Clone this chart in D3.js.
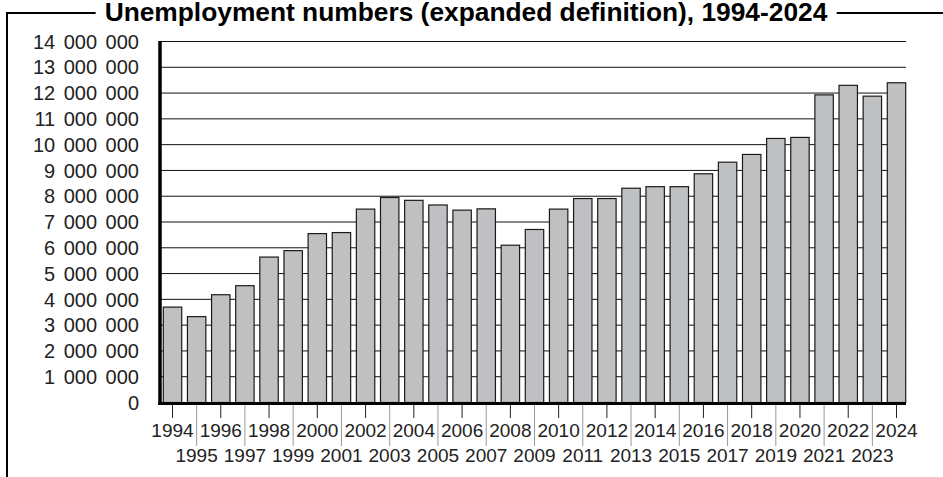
<!DOCTYPE html>
<html><head><meta charset="utf-8">
<script src="https://cdn.jsdelivr.net/npm/d3@7"></script>
<style>html,body{margin:0;padding:0;background:#fff;}svg{display:block;font-family:"Liberation Sans",Arial,Helvetica,sans-serif;}</style>
</head><body>
<script>
const title = "Unemployment numbers (expanded definition), 1994-2024";
const years = [1994,1995,1996,1997,1998,1999,2000,2001,2002,2003,2004,2005,2006,2007,2008,2009,2010,2011,2012,2013,2014,2015,2016,2017,2018,2019,2020,2021,2022,2023,2024];
const unemployed = [3700000,3330000,4180000,4530000,5640000,5890000,6550000,6590000,7500000,7950000,7840000,7660000,7460000,7510000,6100000,6710000,7500000,7910000,7910000,8310000,8370000,8370000,8870000,9320000,9620000,10240000,10280000,11930000,12300000,11880000,12400000];
const yTicks = [0,1000000,2000000,3000000,4000000,5000000,6000000,7000000,8000000,9000000,10000000,11000000,12000000,13000000,14000000];

const W = 943, H = 477;
const svg = d3.select("body").append("svg").attr("width", W).attr("height", H);

const x = d3.scaleBand().domain(years).range([163.3, 905.7]).paddingInner(0.237).paddingOuter(0);
const y = d3.scaleLinear().domain([0, 14000000]).range([402.5, 41.5]);
const fmt = v => d3.format(",")(v).replace(/,/g, " ");

// gridlines
svg.append("g").selectAll("line").data(yTicks.filter(d => d > 0)).join("line")
  .attr("x1", 160).attr("x2", 906)
  .attr("y1", d => y(d)).attr("y2", d => y(d))
  .attr("stroke", "#111").attr("stroke-width", 1);

// bars
svg.append("g").selectAll("rect").data(years).join("rect")
  .attr("x", d => x(d)).attr("width", x.bandwidth())
  .attr("y", (d, i) => y(unemployed[i]))
  .attr("height", (d, i) => y(0) - y(unemployed[i]))
  .attr("fill", "#bfc0c2").attr("stroke", "#1a1a1a").attr("stroke-width", 1.2);

// y labels
svg.append("g").selectAll("text").data(yTicks).join("text")
  .attr("x", 139).attr("y", d => y(d)).attr("dy", "0.36em")
  .attr("text-anchor", "end").attr("font-size", 20).attr("fill", "#222")
  .attr("word-spacing", 3)
  .text(fmt);

// axes lines
svg.append("line").attr("x1", 160).attr("x2", 160).attr("y1", 41).attr("y2", 405)
  .attr("stroke", "#000").attr("stroke-width", 3.5);
svg.append("line").attr("x1", 158.5).attr("x2", 906).attr("y1", 403.5).attr("y2", 403.5)
  .attr("stroke", "#000").attr("stroke-width", 3);

// x ticks and labels
const xg = svg.append("g");
years.forEach((yr, i) => {
  const cx = x(yr) + x.bandwidth() / 2;
  const odd = i % 2 === 1;
  xg.append("line").attr("x1", cx).attr("x2", cx).attr("y1", 405).attr("y2", odd ? 446 : 418)
    .attr("stroke", odd ? "#999" : "#222").attr("stroke-width", 1);
  xg.append("text").attr("x", cx).attr("y", odd ? 462 : 437).attr("text-anchor", "middle")
    .attr("font-size", 19).attr("fill", "#222").text(yr);
});

// title and frame
const t = svg.append("text").attr("x", 466).attr("y", 20.5).attr("text-anchor", "middle")
  .attr("font-size", 19).attr("font-weight", "bold").attr("fill", "#000").text(title);
const tw = t.node().getComputedTextLength();
const ts = 19 * 723 / tw;
t.attr("font-size", ts);
const bb = t.node().getBBox();
const frameY = 13;
svg.append("path").attr("d", `M7,${H} L7,${frameY} L${bb.x - 9},${frameY}`)
  .attr("fill", "none").attr("stroke", "#000").attr("stroke-width", 2);
svg.append("line").attr("x1", bb.x + bb.width + 9).attr("x2", W).attr("y1", frameY).attr("y2", frameY)
  .attr("stroke", "#000").attr("stroke-width", 2);
</script>
</body></html>
